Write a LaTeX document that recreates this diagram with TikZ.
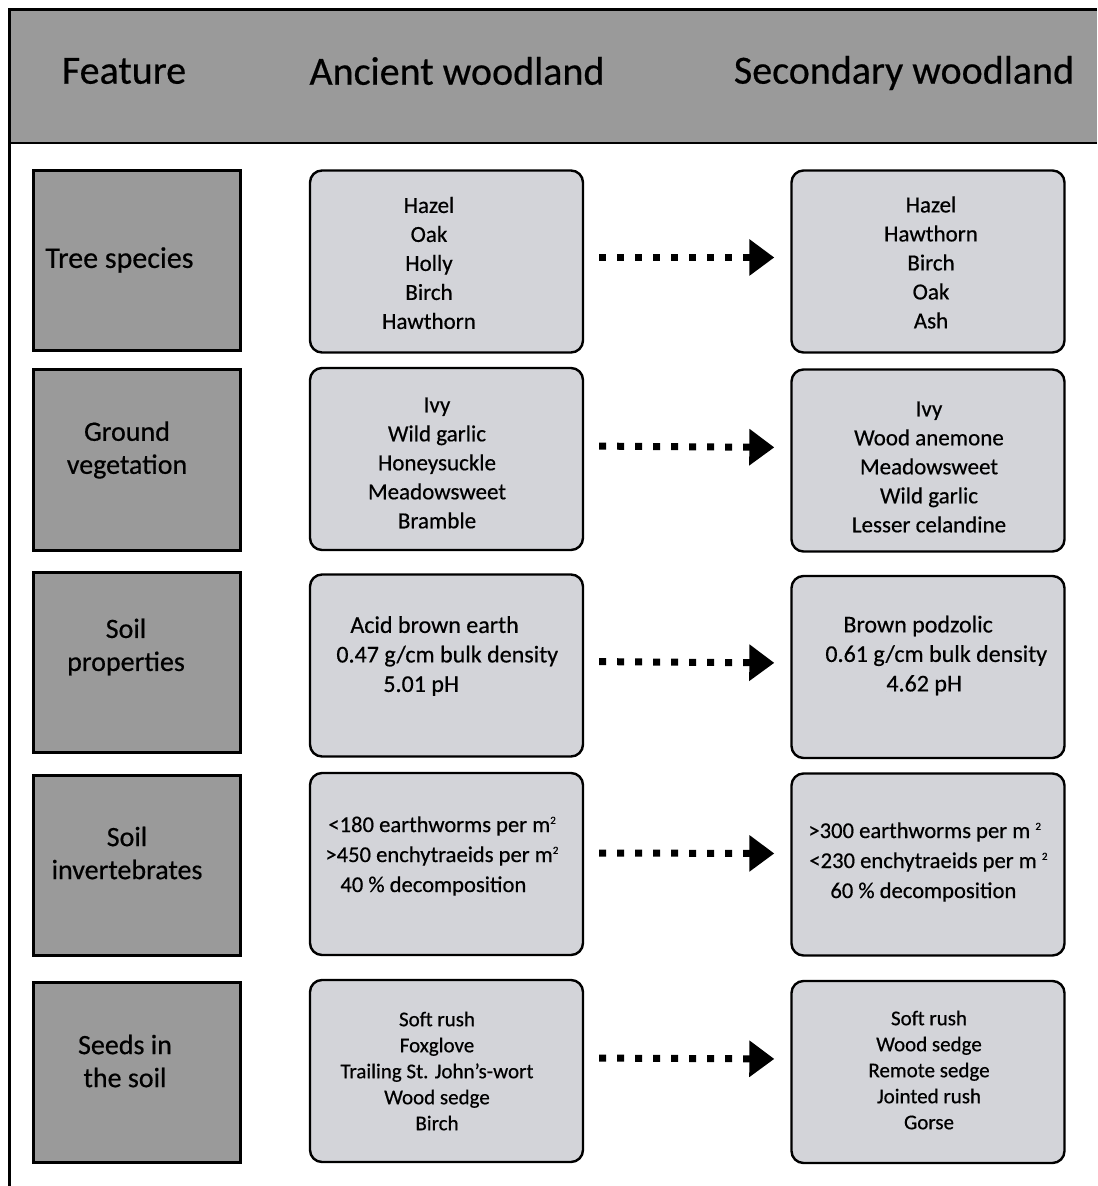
\documentclass[tikz,border=0pt]{standalone}
\usepackage{fontspec}
\setmainfont{Carlito}[FakeBold=0.5]
\usetikzlibrary{arrows.meta}
\definecolor{headgray}{RGB}{154,154,154}
\definecolor{boxgray}{RGB}{211,212,217}
\newcommand{\sqm}{\raisebox{0.75ex}{\fontsize{5.5}{6}\selectfont 2}}

\begin{document}
\begin{tikzpicture}[x=0.5pt,y=-0.5pt,
    feature/.style={draw,line width=1.5pt,fill=headgray,minimum width=103.5pt,minimum height=90pt,inner sep=0pt},
    entry/.style={draw,line width=1.2pt,fill=boxgray,rounded corners=6pt,minimum width=136.5pt,minimum height=91pt,inner sep=0pt},
    head/.style={inner sep=0pt,font=\fontsize{20}{24}\selectfont},
    flabel/.style={inner sep=0pt,align=center,font=\fontsize{14}{16.5}\selectfont},
    elabel/.style={inner sep=0pt,align=center,font=\fontsize{11.5}{14.5}\selectfont},
    flow/.style={line width=3.5pt,dash pattern=on 3.5pt off 5.5pt,-{Triangle[length=12.5pt,width=17.5pt]},shorten <=7.5pt,shorten >=8pt}]
    \useasboundingbox (0,0) rectangle (1097,1186);
    \fill[headgray] (9,10) rectangle (1097,143);
    \draw[line width=1.5pt] (9,1186) -- (9,10) -- (1097,10);
    \draw[line width=1pt] (9,143) -- (1097,143);

    \node[head] (hfeat) at (124,71) {Feature};
    \node[head] (hanc) at (457,71) {Ancient woodland};
    \node[head] (hsec) at (904,73) {Secondary woodland};

    \node[feature] (f1) at (136.5,261) {};
    \node[feature] (f2) at (136.5,460) {};
    \node[feature] (f3) at (136.5,662.5) {};
    \node[feature] (f4) at (136.5,865.5) {};
    \node[feature] (f5) at (136.5,1072.5) {};
    \node[flabel,anchor=west,font=\fontsize{15}{17}\selectfont] (f1t) at (45,260) {Tree species};
    \node[flabel] (f2t) at (127,450) {Ground\\vegetation};
    \node[flabel] (f3t) at (126,647) {Soil\\properties};
    \node[flabel] (f4t) at (127,853) {Soil\\invertebrates};
    \node[flabel] (f5t) at (125,1061) {Seeds in\\the soil};

    \node[entry] (a1) at (446.5,261.5) {};
    \node[entry] (a2) at (446.5,459) {};
    \node[entry] (a3) at (446.5,665.5) {};
    \node[entry] (a4) at (446.5,864) {};
    \node[entry] (a5) at (446.5,1071) {};
    \node[entry] (s1) at (928,261.5) {};
    \node[entry] (s2) at (928,460.5) {};
    \node[entry] (s3) at (928,667) {};
    \node[entry] (s4) at (928,864.5) {};
    \node[entry] (s5) at (928,1072) {};

    \node[elabel] (a1t) at (429,263) {Hazel\\Oak\\Holly\\Birch\\Hawthorn};
    \node[elabel] (s1t) at (931,262.5) {Hazel\\Hawthorn\\Birch\\Oak\\Ash};
    \node[elabel] (a2t) at (437,463) {Ivy\\Wild garlic\\Honeysuckle\\Meadowsweet\\Bramble};
    \node[elabel] (s2t) at (929,467) {Ivy\\Wood anemone\\Meadowsweet\\Wild garlic\\Lesser celandine};
    \node[elabel,anchor=west,align=left,font=\fontsize{12}{14.75}\selectfont] (a3t) at (336,656)
        {\hspace*{7pt}Acid brown earth\\0.47 g/cm bulk density\\\hspace*{23.5pt}5.01 pH};
    \node[elabel,anchor=west,align=left,font=\fontsize{12}{14.75}\selectfont] (s3t) at (825,655.5)
        {\hspace*{9pt}Brown podzolic\\0.61 g/cm bulk density\\\hspace*{30.5pt}4.62 pH};
    \node[elabel,anchor=west,align=left,font=\fontsize{11.3}{15}\selectfont] (a4t) at (325,856)
        {\hspace*{1.5pt}<180 earthworms per m\sqm\\>450 enchytraeids per m\sqm\\\hspace*{7.5pt}40 \% decomposition};
    \node[elabel,anchor=west,align=left,font=\fontsize{11.3}{15}\selectfont] (s4t) at (808,862)
        {>300 earthworms per m \sqm\\\hspace*{0.5pt}<230 enchytraeids per m \sqm\\\hspace*{11pt}60 \% decomposition};
    \node[elabel,font=\fontsize{10.5}{13}\selectfont] (a5t) at (437,1071) {Soft rush\\Foxglove\\Trailing St. John's-wort\\Wood sedge\\Birch};
    \node[elabel,font=\fontsize{10.5}{13}\selectfont] (s5t) at (929,1070) {Soft rush\\Wood sedge\\Remote sedge\\Jointed rush\\Gorse};

    \foreach \i/\dy in {1/2,2/6.5,3/2,4/5.5,5/6.5}
        \draw[flow] ([yshift=\dy pt]a\i.east) -- ([yshift=\dy pt]s\i.west);
\end{tikzpicture}
\end{document}
